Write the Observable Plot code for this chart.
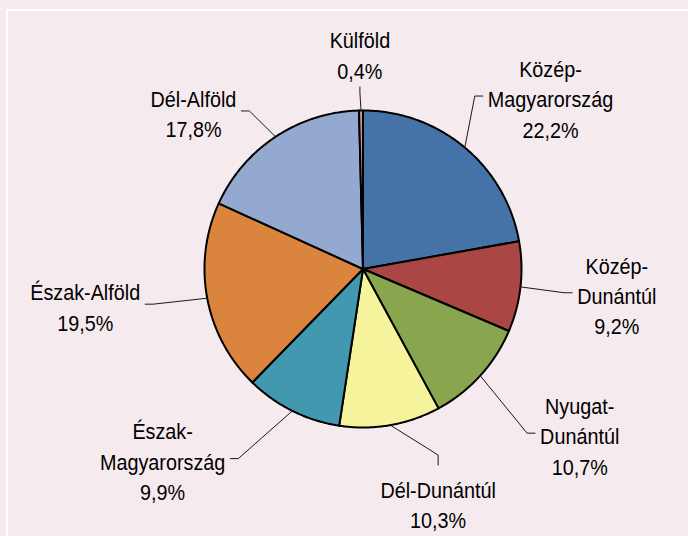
<!DOCTYPE html>
<html>
<head>
<meta charset="utf-8">
<script src="https://cdn.jsdelivr.net/npm/d3@7"></script>
<script src="https://cdn.jsdelivr.net/npm/@observablehq/plot@0.6"></script>
<style>
  html, body { margin: 0; padding: 0; background: #f5eaee; }
  #wrap { position: relative; width: 688px; height: 536px; overflow: hidden; background: #f5eaee; }
  #frame { position: absolute; left: 6px; top: 9px; width: 720px; height: 600px;
           border-left: 2px solid #ffffff; border-top: 2px solid #ffffff; }
  #chart { position: absolute; left: 0; top: 0; }
</style>
</head>
<body>
<div id="wrap"><div id="frame"></div><div id="chart"></div></div>
<script>
// ---- data ----
const regions = ["Közép-Magyarország", "Közép-Dunántúl", "Nyugat-Dunántúl", "Dél-Dunántúl",
                 "Észak-Magyarország", "Észak-Alföld", "Dél-Alföld", "Külföld"];
const shares = [22.2, 9.2, 10.7, 10.3, 9.9, 19.5, 17.8, 0.4];
const labelNames = ["Közép-\nMagyarország", "Közép-\nDunántúl", "Nyugat-\nDunántúl", "Dél-Dunántúl",
                    "Észak-\nMagyarország", "Észak-Alföld", "Dél-Alföld", "Külföld"];
const colors = ["#4572a7", "#aa4643", "#89a54e", "#f5f39b", "#4198af", "#db843d", "#93a9cf", "#d19392"];

// ---- layout (label placement relative to each slice's mid-angle) ----
const labelAngleShift = [7.6, -0.8, -4.9, -7.9, 19.9, 3.1, -13.8, -0.1]; // degrees
const labelDist = [1.603, 1.609, 1.721, 1.551, 1.747, 1.768, 1.456, 1.359];  // in radii

const W = 688, H = 536, cx = 362.5, cy = 268.5, R = 158.5;
const FS = 22, LH = 30.5, SX = 0.9;
const FONT = '"Liberation Sans", Arial, Helvetica, sans-serif';

const arcs = d3.pie().sort(null).value(d => d)(shares);

// slice polygons in radius units (y up)
const slicePts = [];
arcs.forEach((a, i) => {
  const n = Math.max(2, Math.ceil((a.endAngle - a.startAngle) / (Math.PI / 360)));
  slicePts.push({region: regions[i], x: 0, y: 0});
  for (let k = 0; k <= n; k++) {
    const t = a.startAngle + (a.endAngle - a.startAngle) * k / n;
    slicePts.push({region: regions[i], x: Math.sin(t), y: Math.cos(t)});
  }
  slicePts.push({region: regions[i], x: 0, y: 0});
});

const ctx = document.createElement("canvas").getContext("2d");
ctx.font = `${FS}px ${FONT}`;
const toX = px => (px - cx) / R;
const toY = py => -(py - cy) / R;
const fmt = v => v.toFixed(1).replace(".", ",") + "%";

const labelData = [];
const leaderPts = [];
arcs.forEach((a, i) => {
  const text = labelNames[i] + "\n" + fmt(shares[i]);
  const lines = text.split("\n");
  const n = lines.length;
  const w = d3.max(lines, l => ctx.measureText(l).width) * SX;
  const m = (a.startAngle + a.endAngle) / 2;
  const th = m + labelAngleShift[i] * Math.PI / 180;
  const Cx = cx + labelDist[i] * R * Math.sin(th);
  const Cy = cy - labelDist[i] * R * Math.cos(th);
  labelData.push({x: toX(Cx), y: toY(Cy), text});
  const P = [cx + R * Math.sin(m), cy - R * Math.cos(m)];
  let attach, elbow;
  if (Math.abs(Math.sin(th)) < Math.sin(25 * Math.PI / 180)) {
    if (Math.cos(th) > 0) { // label above pie
      const lastBase = Cy + 0.32 * FS + (n - 1) / 2 * LH;
      attach = [Cx, lastBase + 11];
      elbow = [Cx, attach[1] + 6];
    } else { // label below pie
      const firstBase = Cy + 0.32 * FS - (n - 1) / 2 * LH;
      attach = [Cx, firstBase - 0.72 * FS - 14];
      elbow = [Cx, attach[1] - 10];
    }
  } else if (Math.sin(th) > 0) {
    attach = [Cx - w / 2 - 5, Cy - 1.5];
    elbow = [attach[0] - 8, attach[1]];
  } else {
    attach = [Cx + w / 2 + 5, Cy - 1.5];
    elbow = [attach[0] + 8, attach[1]];
  }
  [P, elbow, attach].forEach(p => leaderPts.push({id: i, x: toX(p[0]), y: toY(p[1])}));
});

const chart = Plot.plot({
  width: W,
  height: H,
  margin: 0,
  style: {background: "transparent", overflow: "visible"},
  x: {domain: [toX(0), toX(W)], axis: null},
  y: {domain: [toY(H), toY(0)], axis: null},
  color: {domain: regions, range: colors},
  marks: [
    Plot.line(slicePts, {x: "x", y: "y", z: "region", fill: "region", stroke: "#000",
                         strokeWidth: 2, strokeLinejoin: "round"}),
    Plot.line(leaderPts, {x: "x", y: "y", z: "id", stroke: "#1a1a1a", strokeWidth: 1}),
    Plot.text(labelData, {x: "x", y: "y", text: "text", fontSize: FS, lineHeight: LH / FS,
                          textAnchor: "middle", lineAnchor: "middle", fill: "#000",
                          fontFamily: FONT})
  ]
});
document.getElementById("chart").appendChild(chart);

// horizontally condense label text (narrow face of the original)
chart.querySelectorAll('g[aria-label="text"] text').forEach(el => {
  const tr = el.getAttribute("transform");
  if (tr) {
    el.setAttribute("transform", tr + ` scale(${SX},1)`);
  } else {
    const x = +el.getAttribute("x") || 0, y = +el.getAttribute("y") || 0;
    el.removeAttribute("x"); el.removeAttribute("y");
    el.setAttribute("transform", `translate(${x},${y}) scale(${SX},1)`);
    el.querySelectorAll("tspan").forEach(t => { if (t.hasAttribute("x")) t.setAttribute("x", 0); });
  }
});
</script>
</body>
</html>
